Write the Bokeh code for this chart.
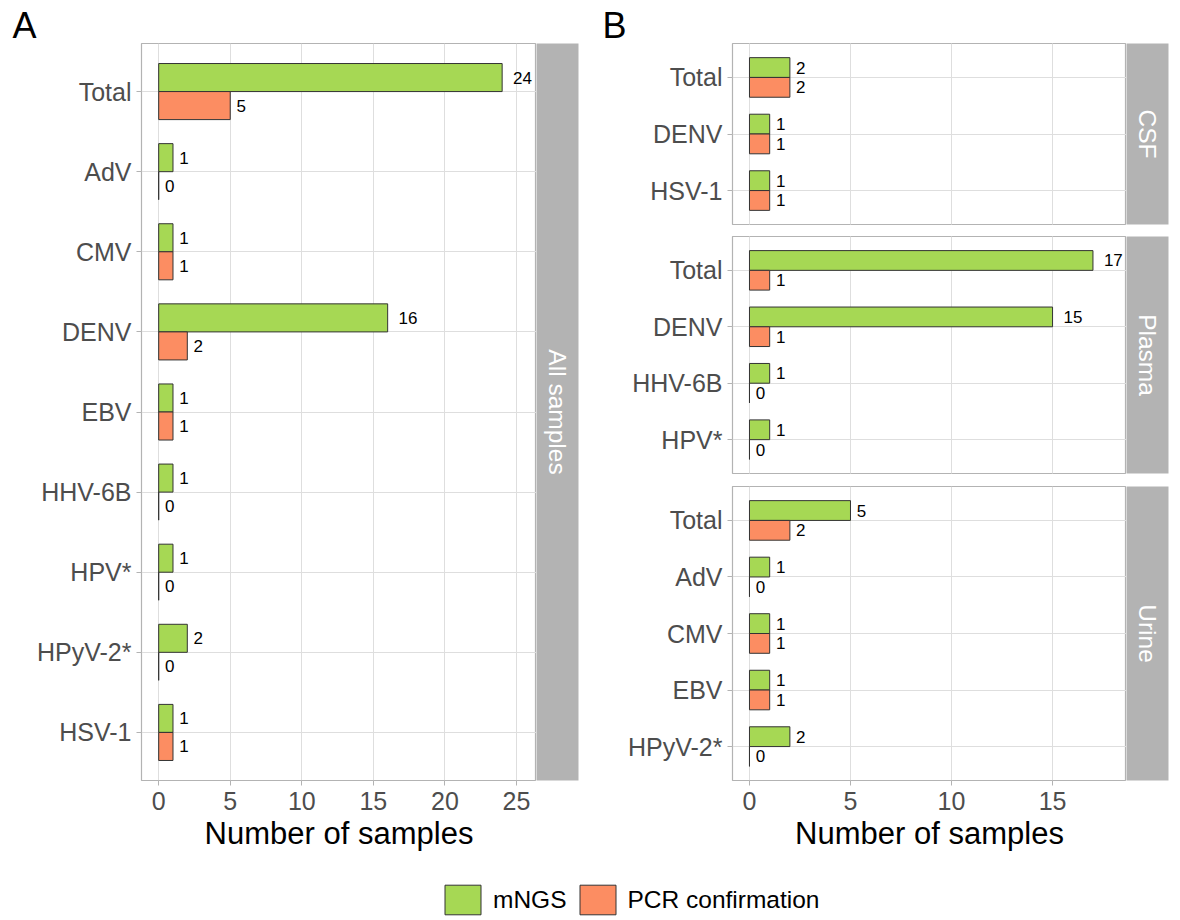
import math

from bokeh.core.properties import value
from bokeh.embed import file_html
from bokeh.layouts import column, row
from bokeh.models import (ColumnDataSource, FixedTicker, Grid, Legend,
                          LegendItem, Range1d)
from bokeh.plotting import figure
from bokeh.resources import INLINE

# ---- data -----------------------------------------------------------------
all_viruses = ["Total", "AdV", "CMV", "DENV", "EBV", "HHV-6B", "HPV*", "HPyV-2*", "HSV-1"]
all_mngs = [24, 1, 1, 16, 1, 1, 1, 2, 1]
all_pcr = [5, 0, 1, 2, 1, 0, 0, 0, 1]

csf_viruses = ["Total", "DENV", "HSV-1"]
csf_mngs = [2, 1, 1]
csf_pcr = [2, 1, 1]

plasma_viruses = ["Total", "DENV", "HHV-6B", "HPV*"]
plasma_mngs = [17, 15, 1, 1]
plasma_pcr = [1, 1, 0, 0]

urine_viruses = ["Total", "AdV", "CMV", "EBV", "HPyV-2*"]
urine_mngs = [5, 1, 1, 1, 2]
urine_pcr = [2, 0, 1, 1, 0]

x_ticks_a = [0, 5, 10, 15, 20, 25]
x_ticks_b = [0, 5, 10, 15]

series_names = ["mNGS", "PCR confirmation"]

# ---- styling --------------------------------------------------------------
FONT = "Liberation Sans"
GREEN = "#A6D854"
ORANGE = "#FC8D62"
BAR_LINE = "#333333"
BORDER = "#B3B3B3"
GRID = "#DEDEDE"
TICK_TEXT = "#4D4D4D"
STRIP_W = 42
BAR_H = 0.35
VALUE_FONT_PX = 17


def label_offsets(vals):
    # push each count label half its own width past the bar end
    return [0.5 * len(str(v)) * 0.556 * VALUE_FONT_PX + 1.5 for v in vals]


def panel(viruses, mngs, pcr, x_lo, x_hi, ticks, frame_w, height,
          top, bottom, left, x_axis, tag=None):
    n = len(viruses)
    ypos = [n - i for i in range(n)]

    p = figure(width=left + frame_w, height=height, output_backend="svg",
               toolbar_location=None,
               x_range=Range1d(x_lo, x_hi), y_range=Range1d(0.4, n + 0.6),
               x_axis_location="below" if x_axis else None,
               min_border_left=left, min_border_right=0,
               min_border_top=top, min_border_bottom=bottom)
    p.background_fill_color = "white"
    p.border_fill_color = "white"
    p.outline_line_color = BORDER
    p.outline_line_width = 1.2

    if tag:
        p.title.text = tag
        p.title.text_font = FONT
        p.title.text_font_size = "36px"
        p.title.text_font_style = "normal"
        p.title.text_color = "black"
        p.title.align = "left"
        p.title.offset = -(left - 12)
        p.title.standoff = -4

    # y axis (categories)
    p.yaxis.ticker = FixedTicker(ticks=ypos)
    p.yaxis.major_label_overrides = {y: v for y, v in zip(ypos, viruses)}
    p.yaxis.axis_line_color = None
    p.yaxis.major_tick_line_color = BORDER
    p.yaxis.major_tick_out = 5
    p.yaxis.major_tick_in = 0
    p.yaxis.minor_tick_line_color = None
    p.yaxis.major_label_standoff = 5
    p.yaxis.major_label_text_font = FONT
    p.yaxis.major_label_text_font_size = "25px"
    p.yaxis.major_label_text_color = TICK_TEXT
    p.ygrid.grid_line_color = GRID
    p.ygrid.grid_line_width = 1

    if x_axis:
        p.xaxis.ticker = FixedTicker(ticks=ticks)
        p.xaxis.axis_line_color = None
        p.xaxis.major_tick_line_color = BORDER
        p.xaxis.major_tick_out = 5
        p.xaxis.major_tick_in = 0
        p.xaxis.minor_tick_line_color = None
        p.xaxis.major_label_standoff = 6
        p.xaxis.major_label_text_font = FONT
        p.xaxis.major_label_text_font_size = "25px"
        p.xaxis.major_label_text_color = TICK_TEXT
        p.xaxis.axis_label = "Number of samples"
        p.xaxis.axis_label_text_font = FONT
        p.xaxis.axis_label_text_font_size = "31px"
        p.xaxis.axis_label_text_font_style = "normal"
        p.xaxis.axis_label_text_color = "black"
        p.xaxis.axis_label_standoff = 3
        p.xgrid.ticker = FixedTicker(ticks=ticks)
        p.xgrid.grid_line_color = GRID
        p.xgrid.grid_line_width = 1
    else:
        p.add_layout(Grid(dimension=0, ticker=FixedTicker(ticks=ticks),
                          grid_line_color=GRID, grid_line_width=1))

    src = ColumnDataSource(dict(
        y=ypos, mngs=mngs, pcr=pcr,
        mngs_top=[y + BAR_H for y in ypos], pcr_bot=[y - BAR_H for y in ypos],
        mngs_mid=[y + BAR_H / 2 for y in ypos], pcr_mid=[y - BAR_H / 2 for y in ypos],
        mngs_txt=[str(v) for v in mngs], pcr_txt=[str(v) for v in pcr],
        mngs_off=label_offsets(mngs), pcr_off=label_offsets(pcr),
    ))
    p.quad(left=0, right="mngs", bottom="y", top="mngs_top", source=src,
           fill_color=GREEN, line_color=BAR_LINE, line_width=1)
    p.quad(left=0, right="pcr", bottom="pcr_bot", top="y", source=src,
           fill_color=ORANGE, line_color=BAR_LINE, line_width=1)
    for xcol, ycol, tcol, ocol in (("mngs", "mngs_mid", "mngs_txt", "mngs_off"),
                                   ("pcr", "pcr_mid", "pcr_txt", "pcr_off")):
        p.text(x=xcol, y=ycol, text=tcol, x_offset=ocol, source=src,
               text_font=value(FONT), text_font_size=f"{VALUE_FONT_PX}px",
               text_align="left", text_baseline="middle", text_color="black")
    return p


def strip(label, height, top, bottom, right=12):
    # grey facet strip with the facet name running top to bottom
    s = figure(width=STRIP_W + right, height=height, output_backend="svg",
               toolbar_location=None, x_range=Range1d(0, 1), y_range=Range1d(0, 1),
               x_axis_location=None, y_axis_location=None,
               min_border_left=0, min_border_right=right,
               min_border_top=top, min_border_bottom=bottom)
    s.outline_line_color = None
    s.border_fill_color = "white"
    s.background_fill_color = BORDER
    s.grid.visible = False
    s.text(x=[0.5], y=[0.5], text=[label], angle=-math.pi / 2,
           text_font=value(FONT), text_font_size="24.5px",
           text_align="center", text_baseline="middle", text_color="white")
    return s


# ---- panel A: all samples -------------------------------------------------
pa = panel(all_viruses, all_mngs, all_pcr, -1.2, 26.4, x_ticks_a, 395, 865,
           top=43, bottom=85, left=141, x_axis=True, tag="A")
sa = strip("All samples", 865, top=43, bottom=85)

# ---- panel B: by sample type ----------------------------------------------
b_lo, b_hi = -0.84, 18.66
pb1 = panel(csf_viruses, csf_mngs, csf_pcr, b_lo, b_hi, x_ticks_b, 394, 236,
            top=43, bottom=12, left=142, x_axis=False, tag="B")
pb2 = panel(plasma_viruses, plasma_mngs, plasma_pcr, b_lo, b_hi, x_ticks_b, 394, 250,
            top=0, bottom=13, left=142, x_axis=False)
pb3 = panel(urine_viruses, urine_mngs, urine_pcr, b_lo, b_hi, x_ticks_b, 394, 379,
            top=0, bottom=85, left=142, x_axis=True)
sb1 = strip("CSF", 236, top=43, bottom=12)
sb2 = strip("Plasma", 250, top=0, bottom=13)
sb3 = strip("Urine", 379, top=0, bottom=85)

# ---- shared legend --------------------------------------------------------
leg = figure(width=1180, height=55, output_backend="svg", toolbar_location=None,
             x_range=(0, 1), y_range=(0, 1), x_axis_location=None,
             y_axis_location=None, min_border=0)
leg.outline_line_color = None
leg.grid.visible = False
# key swatches sit outside the visible range; only their legend entries show
r_m = leg.quad(left=[-3], right=[-2], bottom=[-3], top=[-2], fill_color=GREEN,
               line_color=BAR_LINE, line_width=1)
r_p = leg.quad(left=[-3], right=[-2], bottom=[-3], top=[-2], fill_color=ORANGE,
               line_color=BAR_LINE, line_width=1)
legend = Legend(items=[LegendItem(label=series_names[0], renderers=[r_m]),
                       LegendItem(label=series_names[1], renderers=[r_p])],
                orientation="horizontal", location=(440, 2),
                glyph_width=45, glyph_height=37, label_standoff=8, spacing=8,
                padding=0, margin=0, border_line_alpha=0, background_fill_alpha=0,
                label_text_font=FONT, label_text_font_size="24.5px",
                label_text_color="black")
leg.add_layout(legend)

col_a = row(pa, sa, spacing=0)
col_b = column(row(pb1, sb1, spacing=0), row(pb2, sb2, spacing=0),
               row(pb3, sb3, spacing=0), spacing=0)
layout = column(row(col_a, col_b, spacing=0), leg, spacing=0)

with open("out.html", "w") as f:
    f.write(file_html(layout, INLINE))
